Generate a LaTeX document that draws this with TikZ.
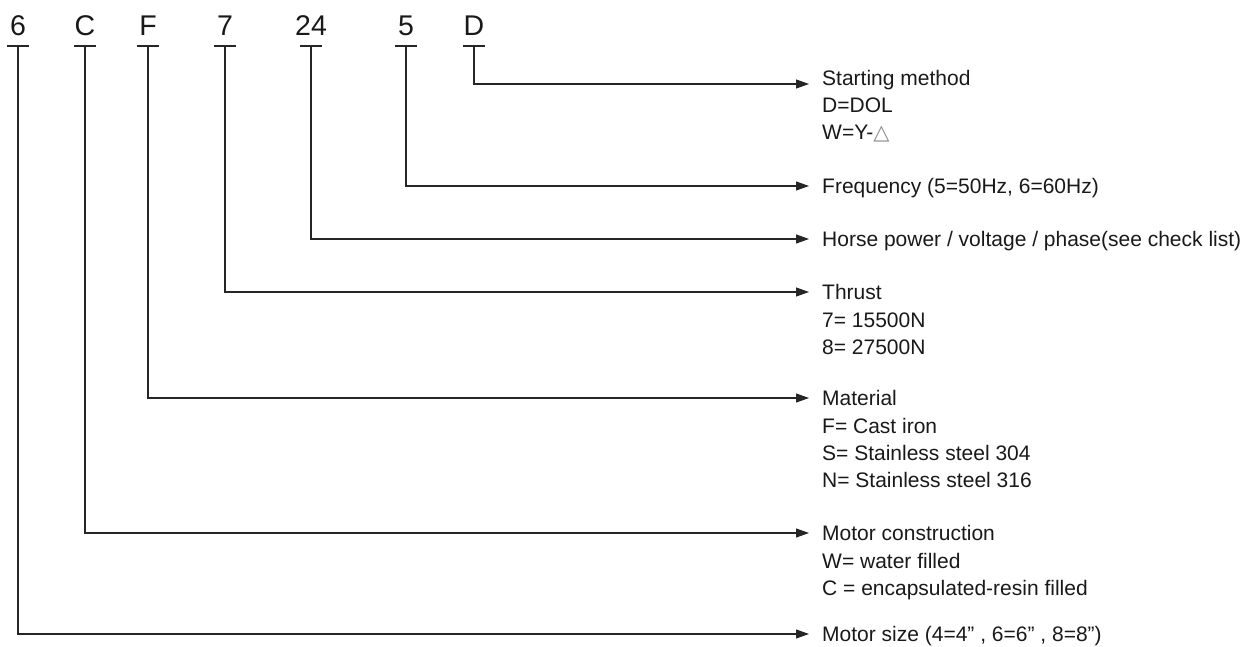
\documentclass[tikz,border=0pt]{standalone}
\usepackage{fontspec}
\setmainfont{Liberation Sans}
\newfontfamily\symfont{DejaVu Sans}
\usetikzlibrary{arrows.meta}
\tikzset{
  ln/.style={line width=1.1pt, draw=black!85},
  arr/.style={ln, -{Triangle[length=13pt,width=9pt]}},
  code/.style={font=\fontsize{28.5}{30}\selectfont, anchor=base, inner sep=0pt, text=black!90},
  desc/.style={font=\fontsize{21}{27}\selectfont, anchor=base west, inner sep=0pt, text=black!90},
  head/.style={desc, text height=15pt, text depth=0pt, anchor=west, inner xsep=13pt, inner ysep=0pt}
}
\begin{document}
\begin{tikzpicture}[x=1pt,y=-1pt]
\useasboundingbox (0,0) rectangle (1249,647);
% code letters
\node[code] (c6) at (18,36) {6};
\node[code] (cC) at (85,36) {C};
\node[code] (cF) at (148,36) {F};
\node[code] (c7) at (225,36) {7};
\node[code] (c24) at (311,36) {24};
\node[code] (c5) at (406,36) {5};
\node[code] (cD) at (474,36) {D};
% bars under letters
\foreach \n/\x in {6/18,C/85,F/148,7/225,24/311,5/406,D/474}{
  \coordinate (b\n) at (\x,46);
  \draw[ln] (\x-11,46) -- (\x+11,46);
}
% descriptions
\node[head] (hD) at (809,78) {Starting method};
\node[desc] (hD1) at (822,113) {D=DOL};
\node[desc] (hD2) at (822,140) {W=Y-{\symfont\color{black!45}△}};
\coordinate (aD) at (809,84);

\node[head] (h5) at (809,186) {Frequency (5=50Hz, 6=60Hz)};

\node[head] (h24) at (809,239) {Horse power / voltage / phase(see check list)};

\node[head] (h7) at (809,292) {Thrust};
\node[desc] (h71) at (822,327) {7= 15500N};
\node[desc] (h72) at (822,354) {8= 27500N};

\node[head] (hF) at (809,398) {Material};
\node[desc] (hF1) at (822,433) {F= Cast iron};
\node[desc] (hF2) at (822,460) {S= Stainless steel 304};
\node[desc] (hF3) at (822,487) {N= Stainless steel 316};

\node[head] (hC) at (809,533) {Motor construction};
\node[desc] (hC1) at (822,568) {W= water filled};
\node[desc] (hC2) at (822,595) {C = encapsulated-resin filled};

\node[head] (h6) at (809,634) {Motor size (4=4{\char"201D} , 6=6{\char"201D} , 8=8{\char"201D})};

% connectors
\draw[arr] (bD) |- (aD);
\draw[arr] (b5) |- (h5.west);
\draw[arr] (b24) |- (h24.west);
\draw[arr] (b7) |- (h7.west);
\draw[arr] (bF) |- (hF.west);
\draw[arr] (bC) |- (hC.west);
\draw[arr] (b6) |- (h6.west);
\end{tikzpicture}
\end{document}
